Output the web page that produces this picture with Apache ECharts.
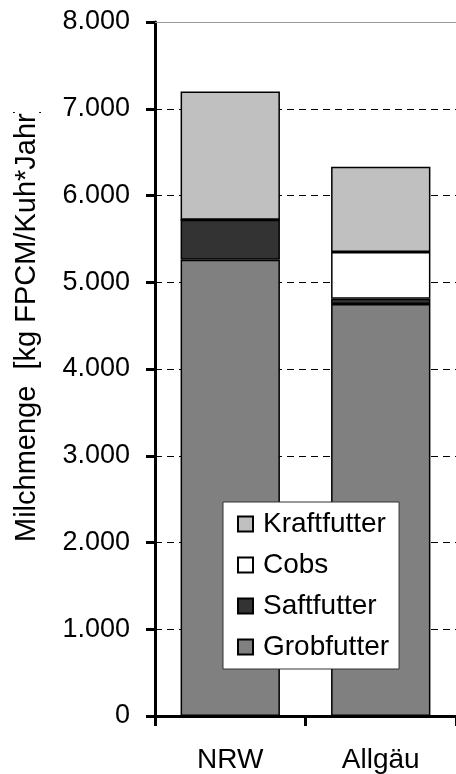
<!DOCTYPE html>
<html>
<head>
<meta charset="utf-8">
<script src="https://cdn.jsdelivr.net/npm/echarts@6/dist/echarts.min.js"></script>
<style>
  html, body { margin: 0; padding: 0; background: #fff; }
  #chart { width: 456px; height: 774px; }
</style>
</head>
<body>
<div id="chart"></div>
<script>
// Kategorien und Werte (kg FPCM/Kuh*Jahr)
const categories = ['NRW', 'Allgäu'];
const grobfutter = [5260, 4750];
const saftfutter = [460, 60];
const cobs = [0, 540];
const kraftfutter = [1480, 980];
const yTickLabels = ['0', '1.000', '2.000', '3.000', '4.000', '5.000', '6.000', '7.000', '8.000'];
const legendOrder = ['Kraftfutter', 'Cobs', 'Saftfutter', 'Grobfutter'];

const FONT = '"Liberation Sans", Arial, sans-serif';

const myChart = echarts.init(document.getElementById('chart'));

// gestapelte Balken
function barSeries(name, data, color) {
  return {
    name: name,
    type: 'bar',
    stack: 'milch',
    xAxisIndex: 0,
    barWidth: '66%',
    data: data,
    itemStyle: { color: color, borderColor: '#000', borderWidth: 1.5 },
    emphasis: { disabled: true }
  };
}

myChart.setOption({
  animation: false,
  textStyle: { fontFamily: FONT },
  grid: { left: 155, top: 22, right: -3, bottom: 57 },
  legend: {
    data: legendOrder,
    orient: 'vertical',
    left: 223,
    top: 502,
    padding: [8, 10, 8, 14],
    itemGap: 13,
    itemWidth: 15,
    itemHeight: 15,
    backgroundColor: '#fff',
    borderColor: '#333',
    borderWidth: 1,
    borderRadius: 0,
    icon: 'rect',
    selectedMode: false,
    textStyle: { fontSize: 28, color: '#000', fontFamily: FONT, padding: [0, 0, 0, 5] }
  },
  xAxis: [
    {
      type: 'category',
      data: categories,
      axisLine: { lineStyle: { color: '#000', width: 3 } },
      axisTick: { show: true, length: 10, lineStyle: { color: '#000', width: 3 } },
      axisLabel: { fontSize: 28, color: '#000', margin: 30, fontFamily: FONT }
    },
    {
      // obere Begrenzung (8.000) als durchgezogene graue Linie
      type: 'category',
      position: 'top',
      data: categories,
      axisLine: { show: true, lineStyle: { color: '#999', width: 1 } },
      axisTick: { show: false },
      axisLabel: { show: false }
    }
  ],
  yAxis: {
    type: 'value',
    min: 0,
    max: 8000,
    interval: 1000,
    axisLine: { show: true, lineStyle: { color: '#000', width: 3 } },
    axisTick: { show: true, length: 9, lineStyle: { color: '#000', width: 3 } },
    axisLabel: {
      fontSize: 27,
      color: '#000',
      margin: 25,
      fontFamily: FONT,
      formatter: function (v) { return yTickLabels[Math.round(v / 1000)]; }
    },
    splitLine: { show: true, lineStyle: { color: '#000', width: 1, type: [7, 5] } }
  },
  graphic: [
    {
      type: 'text',
      x: 27,
      y: 542,
      rotation: Math.PI / 2,
      style: {
        text: 'Milchmenge  [kg FPCM/Kuh*Jahr]',
        font: '29px ' + FONT,
        fill: '#000',
        align: 'left',
        verticalAlign: 'middle'
      }
    },
    {
      // Achsentitel oben abgeschnitten wie im Original
      type: 'rect',
      shape: { x: 0, y: 0, width: 50, height: 112 },
      style: { fill: '#fff' },
      z: 100
    }
  ],
  series: [
    barSeries('Grobfutter', grobfutter, '#808080'),
    barSeries('Saftfutter', saftfutter, '#333333'),
    barSeries('Cobs', cobs, '#ffffff'),
    barSeries('Kraftfutter', kraftfutter, '#c0c0c0')
  ]
});
</script>
</body>
</html>
